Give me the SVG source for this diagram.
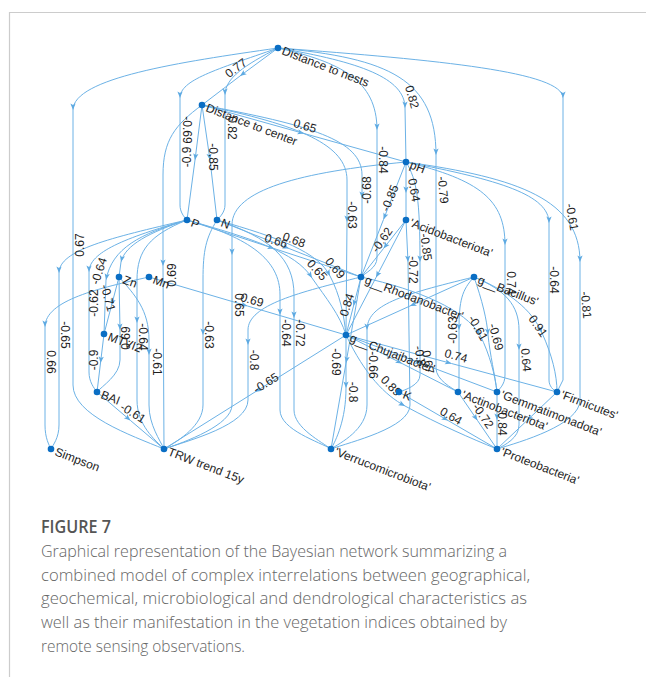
<svg xmlns="http://www.w3.org/2000/svg" width="646" height="677" viewBox="0 0 646 677">
<style>
.e{fill:none;stroke:#6cb2e6;stroke-width:1}
.a{marker-end:url(#ah)}
.n circle{fill:#0a6ec4}
.nl{font-family:"Liberation Sans",Arial,sans-serif;font-size:12px;fill:#1e1e1e}
.el{font-family:"Liberation Sans",Arial,sans-serif;font-size:12px;fill:#1e1e1e;text-anchor:middle}
.cap{font-family:"Open Sans","Liberation Sans",sans-serif;fill:#666666;font-size:16.5px;font-weight:300}
.fig{font-family:"Open Sans","Liberation Sans",sans-serif;fill:#555555;font-size:17.5px;font-weight:600}
.frame{stroke:#cccccc;stroke-width:1.2;fill:none}
</style>
<defs>
<marker id="ah" viewBox="-7 -3.5 8 7" refX="0" refY="0" markerWidth="8" markerHeight="7" markerUnits="userSpaceOnUse" orient="auto"><path d="M0,0 L-6.5,-2.6 L-5,0 L-6.5,2.6 Z" fill="#5eaae2"/></marker>
</defs>
<rect width="646" height="677" fill="#ffffff"/>
<path class="frame" d="M9.5,677 L9.5,12.5 L646,12.5"/>
<g id="connectors">
<path class="e a" d="M278,48 L240,76"/><path class="e" d="M240,76 L202,105"/>
<path class="e a" d="M278,48 C180,62 73,78 73,110"/><path class="e" d="M73,110 L73,385 C73,415 130,435 164,449"/>
<path class="e a" d="M278,48 C215,70 180,80 180,98"/><path class="e" d="M180,98 L180,205 C180,212 184,217 187,220"/>
<path class="e a" d="M278,48 C245,65 225,78 225,95"/><path class="e" d="M225,95 L225,205 C225,212 220,217 217,220"/>
<path class="e a" d="M278,48 C360,62 405,78 405,108"/><path class="e" d="M405,108 L406,162"/>
<path class="e a" d="M278,48 C340,62 377,80 377,130"/><path class="e" d="M377,130 L377,258 C377,268 365,273 361,277"/>
<path class="e a" d="M278,48 C390,58 436,80 436,155"/><path class="e" d="M436,155 L436,368 C436,380 452,388 458,392"/>
<path class="e a" d="M278,48 C440,60 563,72 563,98"/><path class="e" d="M563,98 L563,380 L557,392"/>
<path class="e a" d="M202,105 L195,160"/><path class="e" d="M195,160 L187,220"/>
<path class="e a" d="M202,105 L210,160"/><path class="e" d="M210,160 L217,220"/>
<path class="e a" d="M202,105 C175,125 163,140 163,175 L163,266"/><path class="e" d="M163,266 L164,449"/>
<path class="e a" d="M202,105 L304,133.5"/><path class="e" d="M304,133.5 L406,162"/>
<path class="e a" d="M202,105 C310,125 362,140 362,175 L362,198"/><path class="e" d="M362,198 L362,268 L361,277"/>
<path class="e a" d="M202,105 C300,125 347,145 347,180 L347,222"/><path class="e" d="M347,222 L346,335"/>
<path class="e a" d="M406,162 L406,193"/><path class="e" d="M406,193 L406,220"/>
<path class="e a" d="M406,162 L383.5,219.5"/><path class="e" d="M383.5,219.5 L361,277"/>
<path class="e a" d="M406,220 L383.5,248.5"/><path class="e" d="M383.5,248.5 L361,277"/>
<path class="e a" d="M406,162 C417,180 420,200 420,262"/><path class="e" d="M420,262 L420,375 C420,385 405,390 399,392"/>
<path class="e a" d="M406,162 C480,180 505,200 505,245"/><path class="e" d="M505,245 L505,375 C505,385 499,389 497,392"/>
<path class="e a" d="M406,162 C500,180 549,195 549,223"/><path class="e" d="M549,223 L549,380 C549,386 553,390 557,392"/>
<path class="e a" d="M406,162 C520,178 580,200 580,262"/><path class="e" d="M580,262 L580,400 C580,425 520,442 497,449"/>
<path class="e a" d="M406,162 C300,172 232,190 232,225 L232,255"/><path class="e" d="M232,255 L232,405 C232,425 185,442 164,449"/>
<path class="e a" d="M187,220 C250,238 280,260 280,295 L280,315"/><path class="e" d="M280,315 L280,410 C280,430 320,442 331,449"/>
<path class="e a" d="M217,220 C270,238 294,258 294,295 L294,318"/><path class="e" d="M294,318 L294,410 C294,428 322,442 331,449"/>
<path class="e a" d="M187,220 L274,248.5"/><path class="e" d="M274,248.5 L361,277"/>
<path class="e a" d="M217,220 L289,248.5"/><path class="e" d="M289,248.5 L361,277"/>
<path class="e a" d="M187,220 C250,238 296,252 312,278"/><path class="e" d="M312,278 C326,298 340,315 346,335"/>
<path class="e a" d="M217,220 C280,238 318,252 330,276"/><path class="e" d="M330,276 C340,295 344,315 346,335"/>
<path class="e a" d="M361,277 L353.5,306"/><path class="e" d="M353.5,306 L346,335"/>
<path class="e a" d="M149,277 L247.5,306"/><path class="e" d="M247.5,306 L346,335"/>
<path class="e a" d="M217,220 C206,238 203,250 203,280 L203,335"/><path class="e" d="M203,335 L203,405 C203,425 180,440 164,449"/>
<path class="e a" d="M361,277 C300,292 248,305 248,330 L248,345"/><path class="e" d="M248,345 L248,400 C248,425 190,440 164,449"/>
<path class="e a" d="M346,335 L255,392"/><path class="e" d="M255,392 L164,449"/>
<path class="e a" d="M361,277 L346,363"/><path class="e" d="M346,363 L331,449"/>
<path class="e a" d="M346,335 L346,388"/><path class="e" d="M346,388 C346,420 336,440 331,449"/>
<path class="e a" d="M474,277 C400,295 367,305 367,330"/><path class="e" d="M367,330 L367,405 C367,430 340,443 331,449"/>
<path class="e a" d="M406,220 L408,262"/><path class="e" d="M408,262 L410,405 C410,428 350,442 331,449"/>
<path class="e a" d="M346,335 C365,375 385,395 405,406"/><path class="e" d="M405,406 C440,425 470,438 497,449"/>
<path class="e a" d="M399,392 L448,420.5"/><path class="e" d="M448,420.5 L497,449"/>
<path class="e a" d="M346,335 L421.5,363.5"/><path class="e" d="M421.5,363.5 L497,392"/>
<path class="e a" d="M346,335 L402,363.5"/><path class="e" d="M402,363.5 L458,392"/>
<path class="e a" d="M346,335 L451.5,363.5"/><path class="e" d="M451.5,363.5 L557,392"/>
<path class="e a" d="M474,277 C462,290 459,300 459,330"/><path class="e" d="M459,330 L459,392"/>
<path class="e a" d="M474,277 C482,300 487,320 488,335"/><path class="e" d="M488,335 C490,355 495,375 497,392"/>
<path class="e a" d="M361,277 C420,290 465,310 480,335"/><path class="e" d="M480,335 C490,355 495,375 497,392"/>
<path class="e a" d="M474,277 C510,292 532,310 542,333"/><path class="e" d="M542,333 C552,355 557,375 557,392"/>
<path class="e a" d="M474,277 C505,290 519,305 519,330 L519,350"/><path class="e" d="M519,350 L519,425 C519,438 505,445 497,449"/>
<path class="e a" d="M458,392 L477.5,420.5"/><path class="e" d="M477.5,420.5 L497,449"/>
<path class="e a" d="M497,392 L497,420"/><path class="e" d="M497,420 L497,449"/>
<path class="e a" d="M557,392 L527,420.5"/><path class="e" d="M527,420.5 L497,449"/>
<path class="e a" d="M474,277 L410,306"/><path class="e" d="M410,306 L346,335"/>
<path class="e a" d="M406,220 L376,277.5"/><path class="e" d="M376,277.5 L346,335"/>
<path class="e a" d="M187,220 C110,238 59,250 59,273"/><path class="e" d="M59,273 L59,425 C59,438 53,445 51,449"/>
<path class="e a" d="M149,277 C100,288 45,300 45,327"/><path class="e" d="M45,327 L45,425 C45,438 49,445 51,449"/>
<path class="e a" d="M187,220 C125,238 89,252 89,272"/><path class="e" d="M89,272 L89,372 C89,382 94,388 97,392"/>
<path class="e a" d="M187,220 C140,234 112,248 106,280"/><path class="e" d="M106,280 L104,334"/>
<path class="e a" d="M187,220 C150,232 125,245 121,262"/><path class="e" d="M121,262 L119,277"/>
<path class="e a" d="M119,277 L111.5,305.5"/><path class="e" d="M111.5,305.5 L104,334"/>
<path class="e a" d="M119,277 L120,330"/><path class="e" d="M120,330 L120,360 C120,375 102,386 97,392"/>
<path class="e a" d="M104,334 L100.5,363"/><path class="e" d="M100.5,363 L97,392"/>
<path class="e a" d="M187,220 C150,235 137,250 137,280 L137,323"/><path class="e" d="M137,323 L137,400 C137,425 155,440 164,449"/>
<path class="e a" d="M119,277 C135,295 149,310 149,340 L149,355"/><path class="e" d="M149,355 L149,405 C149,425 160,440 164,449"/>
<path class="e a" d="M97,392 L130.5,420.5"/><path class="e" d="M130.5,420.5 L164,449"/>
</g>
<g id="edge-labels">
<text class="el" transform="translate(236,68) rotate(-37)" y="4">0.77</text>
<text class="el" transform="translate(80,245) rotate(-90)" y="4">0.67</text>
<text class="el" transform="translate(187,130) rotate(90)" y="4">-0.69</text>
<text class="el" transform="translate(187,157) rotate(-90)" y="4">-0.9</text>
<text class="el" transform="translate(232,128) rotate(90)" y="4">0.82</text>
<text class="el" transform="translate(213,157) rotate(90)" y="4">-0.85</text>
<text class="el" transform="translate(412,97) rotate(75)" y="4">0.82</text>
<text class="el" transform="translate(383,160) rotate(90)" y="4">-0.84</text>
<text class="el" transform="translate(443,190) rotate(85)" y="4">-0.79</text>
<text class="el" transform="translate(572,217) rotate(80)" y="4">-0.61</text>
<text class="el" transform="translate(172,275) rotate(-90)" y="4">0.69</text>
<text class="el" transform="translate(305,126) rotate(15)" y="4">0.65</text>
<text class="el" transform="translate(367,190) rotate(-90)" y="4">-0.68</text>
<text class="el" transform="translate(352,215) rotate(90)" y="4">-0.63</text>
<text class="el" transform="translate(414,190) rotate(80)" y="4">0.64</text>
<text class="el" transform="translate(390,198) rotate(-68)" y="4">-0.85</text>
<text class="el" transform="translate(382,240) rotate(-55)" y="4">-0.62</text>
<text class="el" transform="translate(426,247) rotate(82)" y="4">-0.85</text>
<text class="el" transform="translate(511,283) rotate(90)" y="4">0.74</text>
<text class="el" transform="translate(554,280) rotate(90)" y="4">-0.64</text>
<text class="el" transform="translate(586,305) rotate(85)" y="4">-0.81</text>
<text class="el" transform="translate(239,305) rotate(90)" y="4">0.65</text>
<text class="el" transform="translate(286,333) rotate(90)" y="4">-0.64</text>
<text class="el" transform="translate(300,333) rotate(90)" y="4">-0.72</text>
<text class="el" transform="translate(276,241) rotate(18)" y="4">0.66</text>
<text class="el" transform="translate(294,240) rotate(20)" y="4">0.68</text>
<text class="el" transform="translate(317,270) rotate(48)" y="4">0.65</text>
<text class="el" transform="translate(335,268) rotate(50)" y="4">0.69</text>
<text class="el" transform="translate(347,305) rotate(-72)" y="4">0.84</text>
<text class="el" transform="translate(252,300) rotate(16)" y="4">0.69</text>
<text class="el" transform="translate(209,335) rotate(90)" y="4">-0.63</text>
<text class="el" transform="translate(254,360) rotate(90)" y="4">-0.8</text>
<text class="el" transform="translate(266,383) rotate(-32)" y="4">-0.65</text>
<text class="el" transform="translate(336,362) rotate(90)" y="4">-0.69</text>
<text class="el" transform="translate(353,392) rotate(90)" y="4">-0.8</text>
<text class="el" transform="translate(373,365) rotate(90)" y="4">-0.66</text>
<text class="el" transform="translate(413,270) rotate(90)" y="4">-0.72</text>
<text class="el" transform="translate(391,386) rotate(45)" y="4">0.89</text>
<text class="el" transform="translate(451,416) rotate(30)" y="4">0.64</text>
<text class="el" transform="translate(420,356) rotate(80)" y="4">-0.8</text>
<text class="el" transform="translate(428,362) rotate(80)" y="4">0.67</text>
<text class="el" transform="translate(456,356) rotate(15)" y="4">0.74</text>
<text class="el" transform="translate(453,330) rotate(-90)" y="4">-0.63</text>
<text class="el" transform="translate(496,337) rotate(75)" y="4">-0.69</text>
<text class="el" transform="translate(478,328) rotate(60)" y="4">-0.61</text>
<text class="el" transform="translate(538,326) rotate(55)" y="4">0.91</text>
<text class="el" transform="translate(526,360) rotate(85)" y="4">0.64</text>
<text class="el" transform="translate(483,416) rotate(55)" y="4">-0.72</text>
<text class="el" transform="translate(502,424) rotate(90)" y="4">0.84</text>
<text class="el" transform="translate(65,335) rotate(90)" y="4">-0.65</text>
<text class="el" transform="translate(51,362) rotate(90)" y="4">0.66</text>
<text class="el" transform="translate(94,303) rotate(-90)" y="4">-0.62</text>
<text class="el" transform="translate(99,271) rotate(-72)" y="4">-0.64</text>
<text class="el" transform="translate(108,298) rotate(75)" y="4">-0.71</text>
<text class="el" transform="translate(126,338) rotate(-90)" y="4">0.69</text>
<text class="el" transform="translate(94,360) rotate(-90)" y="4">-0.9</text>
<text class="el" transform="translate(143,337) rotate(90)" y="4">-0.64</text>
<text class="el" transform="translate(157,362) rotate(90)" y="4">-0.61</text>
<text class="el" transform="translate(133,413) rotate(32)" y="4">-0.61</text>
</g>
<g id="n-nests" class="n"><circle cx="278" cy="48" r="3.3"/><text class="nl" transform="translate(278,48) rotate(21)" x="5" y="4.5">Distance to nests</text></g>
<g id="n-center" class="n"><circle cx="202" cy="105" r="3.3"/><text class="nl" transform="translate(202,105) rotate(21)" x="5" y="4.5">Distance to center</text></g>
<g id="n-ph" class="n"><circle cx="406" cy="162" r="3.3"/><text class="nl" transform="translate(406,162) rotate(21)" x="5" y="4.5">pH</text></g>
<g id="n-acido" class="n"><circle cx="406" cy="220" r="3.3"/><text class="nl" transform="translate(406,220) rotate(21)" x="5" y="4.5">'Acidobacteriota'</text></g>
<g id="n-p" class="n"><circle cx="187" cy="220" r="3.3"/><text class="nl" transform="translate(187,220) rotate(21)" x="5" y="4.5">P</text></g>
<g id="n-n" class="n"><circle cx="217" cy="220" r="3.3"/><text class="nl" transform="translate(217,220) rotate(21)" x="5" y="4.5">N</text></g>
<g id="n-zn" class="n"><circle cx="119" cy="277" r="3.3"/><text class="nl" transform="translate(119,277) rotate(21)" x="5" y="4.5">Zn</text></g>
<g id="n-mn" class="n"><circle cx="149" cy="277" r="3.3"/><text class="nl" transform="translate(149,277) rotate(21)" x="5" y="4.5">Mn</text></g>
<g id="n-rhodano" class="n"><circle cx="361" cy="277" r="3.3"/><text class="nl" transform="translate(361,277) rotate(21)" x="5" y="4.5">g__Rhodanobacter'</text></g>
<g id="n-bacillus" class="n"><circle cx="474" cy="277" r="3.3"/><text class="nl" transform="translate(474,277) rotate(21)" x="5" y="4.5">g__Bacillus'</text></g>
<g id="n-chujai" class="n"><circle cx="346" cy="335" r="3.3"/><text class="nl" transform="translate(346,335) rotate(21)" x="5" y="4.5">g__Chujaibacter'</text></g>
<g id="n-mtvi2" class="n"><circle cx="104" cy="334" r="3.3"/><text class="nl" transform="translate(104,334) rotate(21)" x="5" y="4.5">MTVI2</text></g>
<g id="n-bai" class="n"><circle cx="97" cy="392" r="3.3"/><text class="nl" transform="translate(97,392) rotate(21)" x="5" y="4.5">BAI</text></g>
<g id="n-k" class="n"><circle cx="399" cy="392" r="3.3"/><text class="nl" transform="translate(399,392) rotate(21)" x="5" y="4.5">K</text></g>
<g id="n-actino" class="n"><circle cx="458" cy="392" r="3.3"/><text class="nl" transform="translate(458,392) rotate(21)" x="5" y="4.5">'Actinobacteriota'</text></g>
<g id="n-gemma" class="n"><circle cx="497" cy="392" r="3.3"/><text class="nl" transform="translate(497,392) rotate(21)" x="5" y="4.5">'Gemmatimonadota'</text></g>
<g id="n-firmi" class="n"><circle cx="557" cy="392" r="3.3"/><text class="nl" transform="translate(557,392) rotate(21)" x="5" y="4.5">'Firmicutes'</text></g>
<g id="n-simpson" class="n"><circle cx="51" cy="449" r="3.3"/><text class="nl" transform="translate(51,449) rotate(21)" x="5" y="4.5">Simpson</text></g>
<g id="n-trw" class="n"><circle cx="164" cy="449" r="3.3"/><text class="nl" transform="translate(164,449) rotate(21)" x="5" y="4.5">TRW trend 15y</text></g>
<g id="n-verruco" class="n"><circle cx="331" cy="449" r="3.3"/><text class="nl" transform="translate(331,449) rotate(21)" x="5" y="4.5">'Verrucomicrobiota'</text></g>
<g id="n-proteo" class="n"><circle cx="497" cy="449" r="3.3"/><text class="nl" transform="translate(497,449) rotate(21)" x="5" y="4.5">'Proteobacteria'</text></g>
<g id="caption">
<text class="fig" x="41" y="533" textLength="70" lengthAdjust="spacingAndGlyphs">FIGURE 7</text>
<text class="cap" x="41" y="557" textLength="466" lengthAdjust="spacingAndGlyphs">Graphical representation of the Bayesian network summarizing a</text>
<text class="cap" x="41" y="581" textLength="489" lengthAdjust="spacingAndGlyphs">combined model of complex interrelations between geographical,</text>
<text class="cap" x="41" y="604" textLength="486" lengthAdjust="spacingAndGlyphs">geochemical, microbiological and dendrological characteristics as</text>
<text class="cap" x="41" y="628" textLength="466" lengthAdjust="spacingAndGlyphs">well as their manifestation in the vegetation indices obtained by</text>
<text class="cap" x="41" y="652" textLength="204" lengthAdjust="spacingAndGlyphs">remote sensing observations.</text>
</g>
</svg>
